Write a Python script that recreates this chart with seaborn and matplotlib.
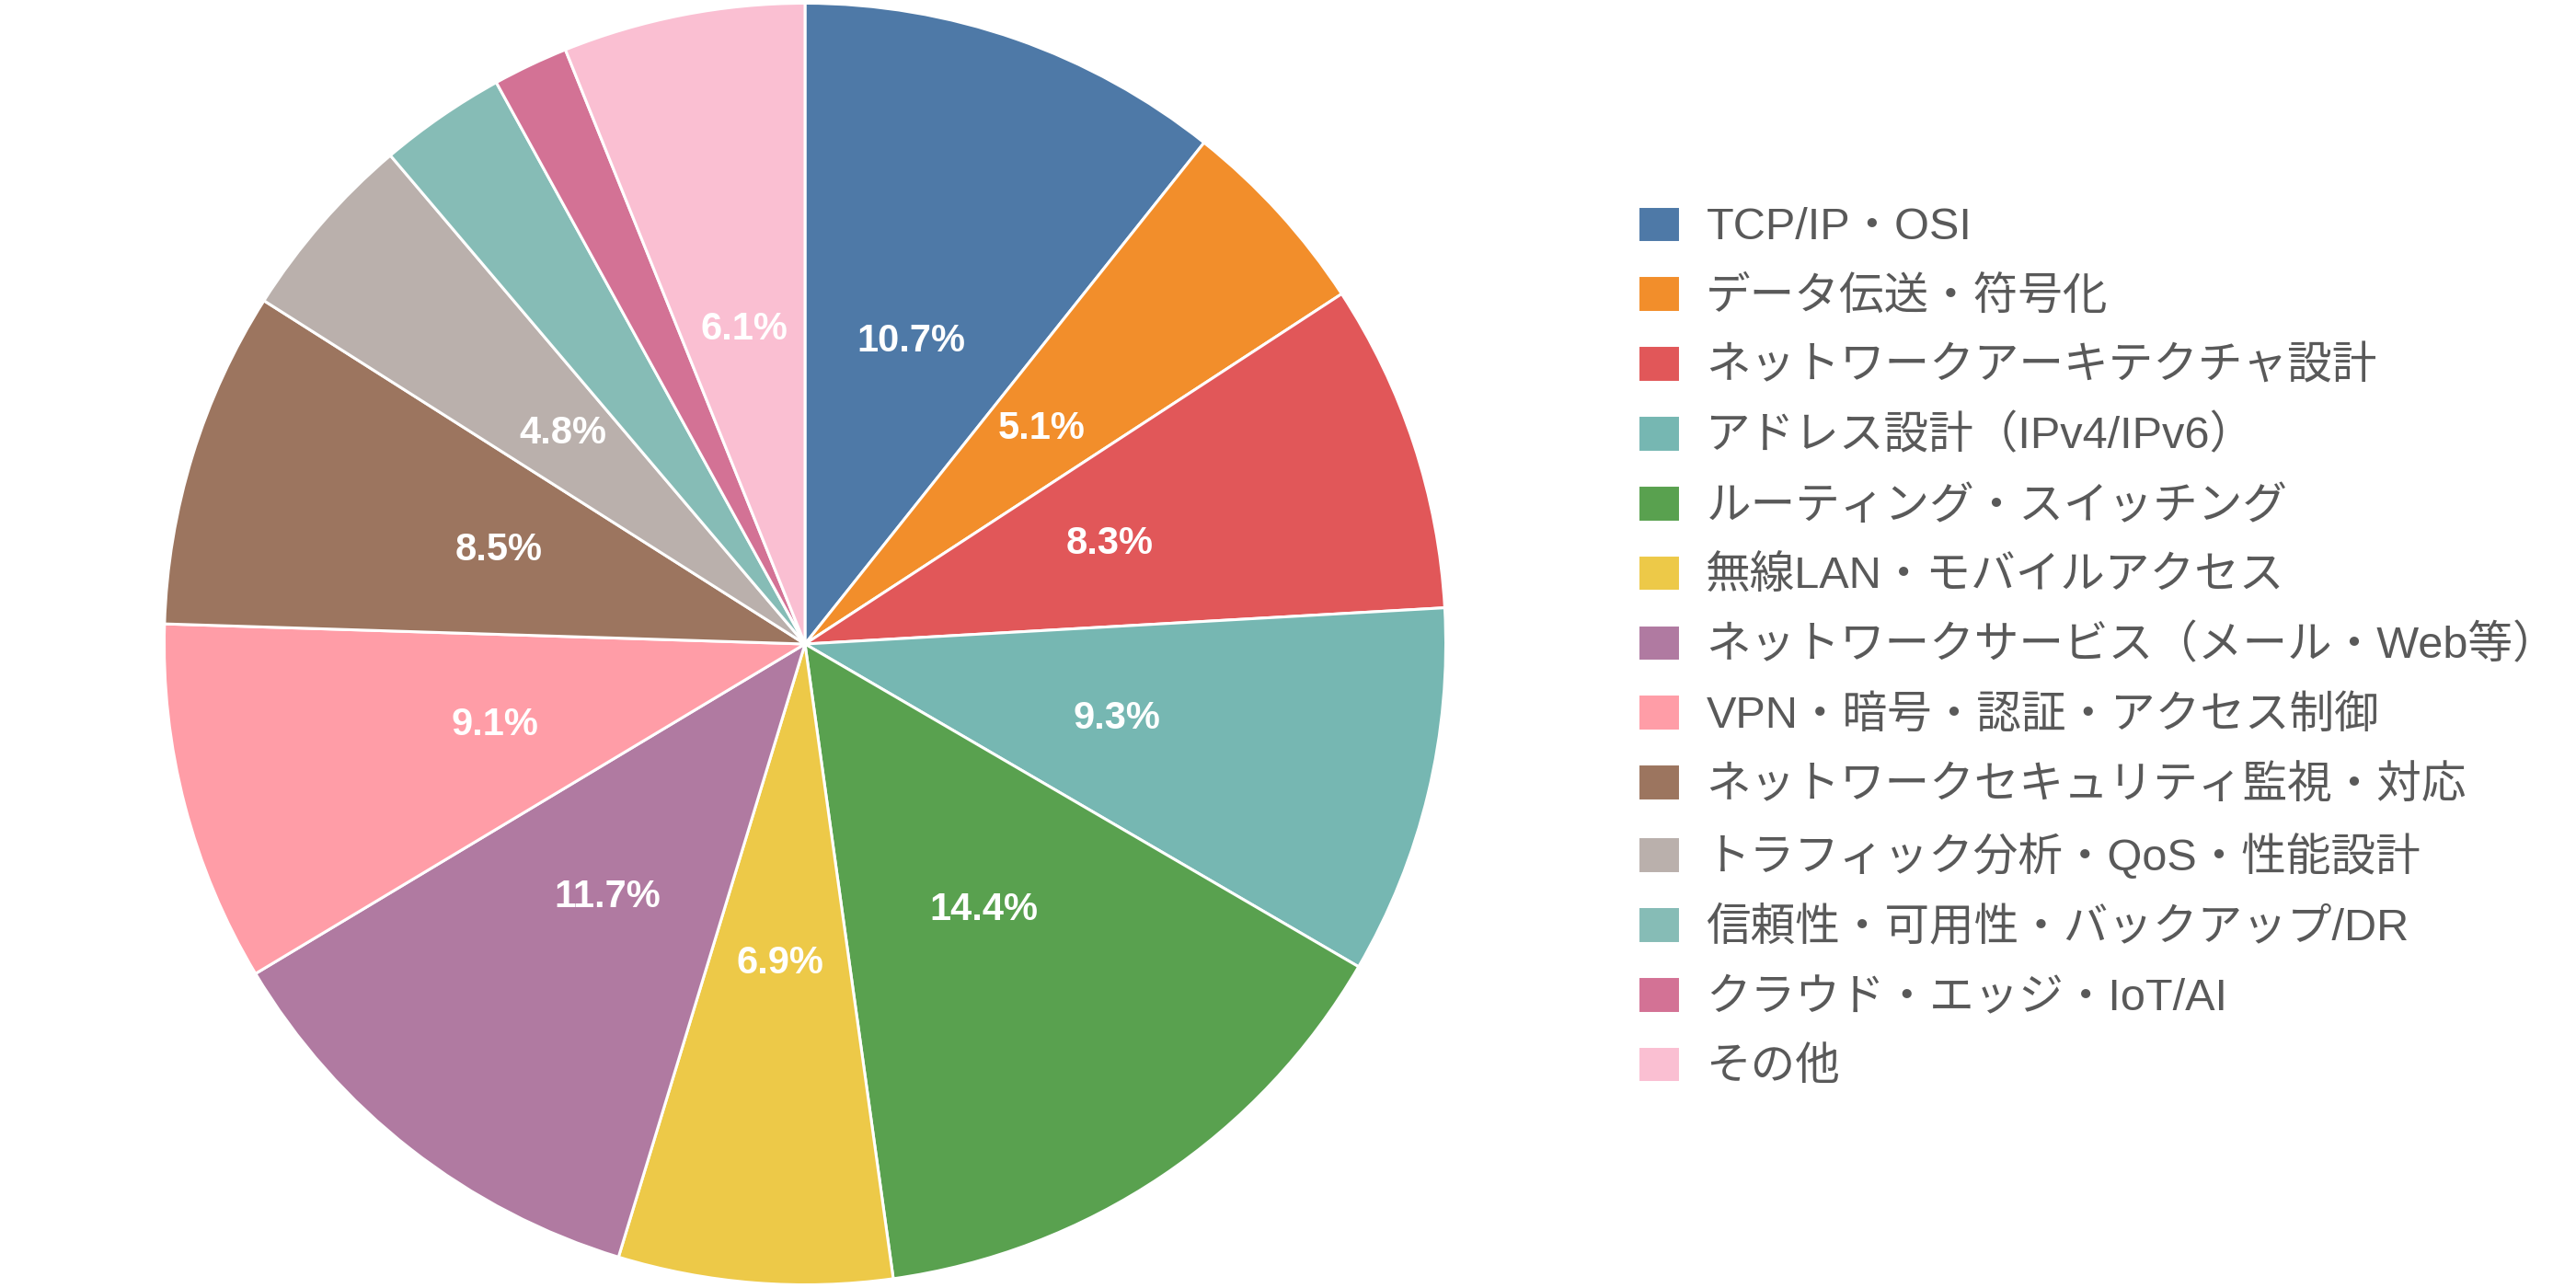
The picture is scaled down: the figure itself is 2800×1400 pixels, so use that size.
import matplotlib
matplotlib.use('Agg')
import matplotlib.pyplot as plt
import seaborn as sns

# Category names (legend order = slice order, clockwise from 12 o'clock)
categories = [
    'TCP/IP・OSI',
    'データ伝送・符号化',
    'ネットワークアーキテクチャ設計',
    'アドレス設計（IPv4/IPv6）',
    'ルーティング・スイッチング',
    '無線LAN・モバイルアクセス',
    'ネットワークサービス（メール・Web等）',
    'VPN・暗号・認証・アクセス制御',
    'ネットワークセキュリティ監視・対応',
    'トラフィック分析・QoS・性能設計',
    '信頼性・可用性・バックアップ/DR',
    'クラウド・エッジ・IoT/AI',
    'その他',
]

# Share of each category (%)
shares = [10.7, 5.1, 8.3, 9.3, 14.4, 6.9, 11.7, 9.1, 8.5, 4.8, 3.2, 1.9, 6.1]

colors = ['#4E79A7', '#F28E2B', '#E15759', '#76B7B2', '#59A14F', '#EDC948',
          '#B07AA1', '#FF9DA7', '#9C755F', '#BAB0AC', '#86BCB6', '#D37295',
          '#FABFD2']

sns.set_theme(style='white')
plt.rcParams['font.family'] = ['Liberation Sans', 'Noto Sans CJK JP', 'DejaVu Sans']

fig = plt.figure(figsize=(28, 14), dpi=100)
ax = fig.add_axes([(875 - 700) / 2800, 0, 1400 / 2800, 1])

palette = sns.color_palette(colors)


def fmt(p):
    return f'{p:.1f}%' if p >= 4 else ''


wedges, texts, autotexts = ax.pie(
    shares,
    colors=palette,
    startangle=90,
    counterclock=False,
    autopct=fmt,
    pctdistance=0.5,
    wedgeprops=dict(edgecolor='white', linewidth=2.2),
    textprops=dict(color='white', fontsize=30, fontweight='bold'),
)
ax.set_xlim(-1.005, 1.005)
ax.set_ylim(-1.005, 1.005)
ax.set_aspect('equal')

leg = fig.legend(
    wedges, categories,
    loc='center left',
    bbox_to_anchor=(1780 / 2800, 0.4975),
    frameon=False,
    fontsize=35,
    handlelength=0.95,
    handleheight=0.88,
    handletextpad=0.58,
    labelspacing=0.6,
    borderpad=0,
    borderaxespad=0,
)
for t in leg.get_texts():
    t.set_color('#595959')

fig.savefig('out.png', dpi=100, facecolor='white')
